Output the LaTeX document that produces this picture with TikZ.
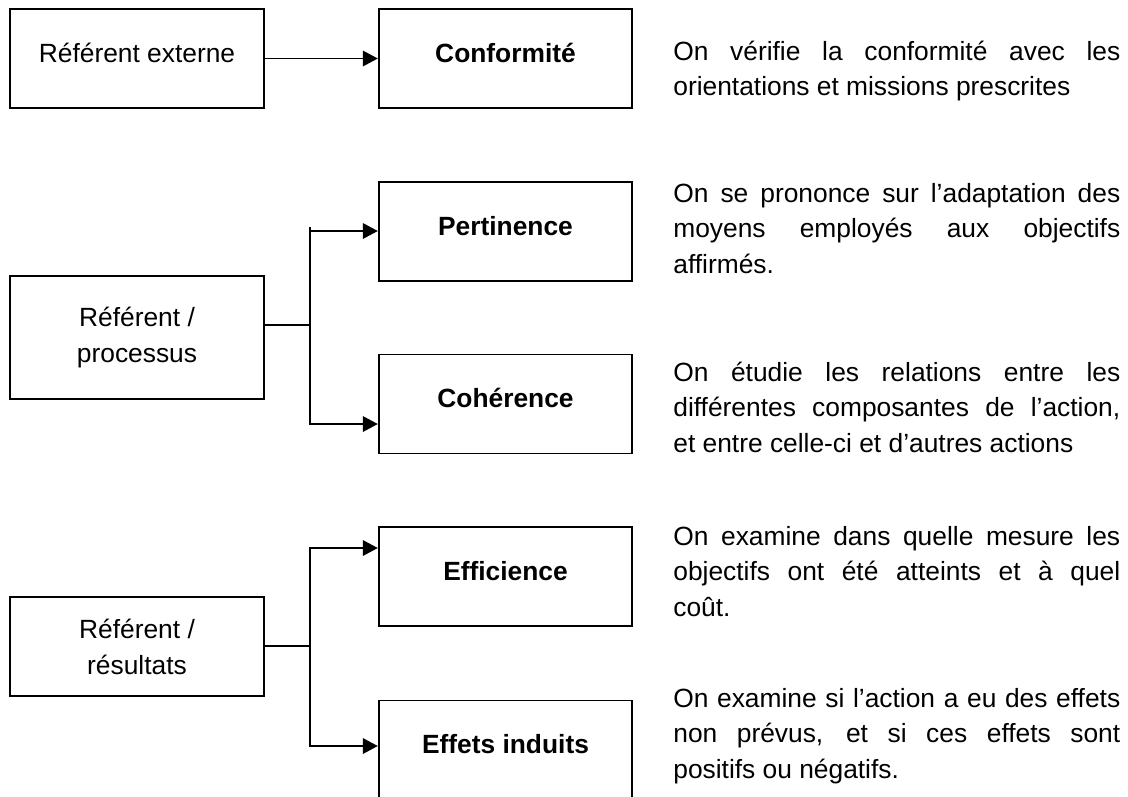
\documentclass[tikz,border=0pt]{standalone}
\usepackage{fontspec}
\setmainfont{Liberation Sans}
\usetikzlibrary{arrows.meta}

\tikzset{
  box/.style={draw, line width=1.1pt, minimum width=5.07cm, minimum height=1.98cm,
    inner sep=0pt, align=center, font=\fontsize{15}{20.4}\selectfont},
  onebox/.style={box, text height=0.5cm, text depth=0.36cm}, % label a bit above centre
  critbox/.style={onebox, font=\fontsize{15}{20.4}\selectfont\bfseries},
  desc/.style={anchor=base west, inner sep=0pt, text width=8.94cm, align=justify,
    font=\fontsize{15}{20.4}\selectfont,
    execute at begin node={\hyphenpenalty=10000\relax\exhyphenpenalty=10000\relax}},
  link/.style={line width=1.1pt},
  arr/.style={link, -{Triangle[length=0.3cm,width=0.31cm]}}
}

\begin{document}
\begin{tikzpicture}[x=0.02cm, y=-0.02cm]
\useasboundingbox (0,0) rectangle (1128,796);

% Left column (referents)
\node[onebox] (ext) at (137,58.5) {Référent externe};
\node[box, minimum height=2.46cm] (proc) at (137,337.5) {Référent /\\processus};
\node[box] (res) at (137,646.5) {Référent /\\résultats};

% Middle column (criteria)
\foreach \n/\y/\t in {conf/58.5/Conformité, pert/231.5/Pertinence, coh/404/Cohérence,
                      eff/576.5/Efficience, ind/750/Effets induits}
  \node[critbox] (\n) at (505.5,\y) {\t};

% Connectors
\draw[arr] (ext) -- (conf);

\coordinate (jp) at (310,325);
\coordinate (pt) at (310,231);
\coordinate (pb) at (310,424);
\draw[link] (jp -| proc.east) -- (jp);
\draw[link] (pt) -- ++(0,-4); % small overshoot at the top
\draw[arr] (jp) |- (pt -| pert.west);
\draw[arr] (jp) |- (pb -| coh.west);

\coordinate (jr) at (310,646);
\coordinate (rt) at (310,548);
\coordinate (rb) at (310,746);
\draw[link] (jr -| res.east) -- (jr);
\draw[arr] (jr) |- (rt -| eff.west);
\draw[arr] (jr) |- (rb -| ind.west);

% Right column (descriptions)
\node[desc] (dconf) at (673,60) {On vérifie la conformité avec les\linebreak orientations et missions prescrites};
\node[desc] (dpert) at (673,202) {On se prononce sur l’adaptation des\linebreak moyens employés aux objectifs\linebreak affirmés.};
\node[desc] (dcoh) at (673,381) {On étudie les relations entre les\linebreak différentes composantes de l’action,\linebreak et entre celle-ci et d’autres actions};
\node[desc] (deff) at (673,545) {On examine dans quelle mesure les\linebreak objectifs ont été atteints et à quel\linebreak coût.};
\node[desc] (dind) at (673,707) {On examine si l’action a eu des effets\linebreak non prévus, et si ces effets sont\linebreak positifs ou négatifs.};

\end{tikzpicture}
\end{document}
